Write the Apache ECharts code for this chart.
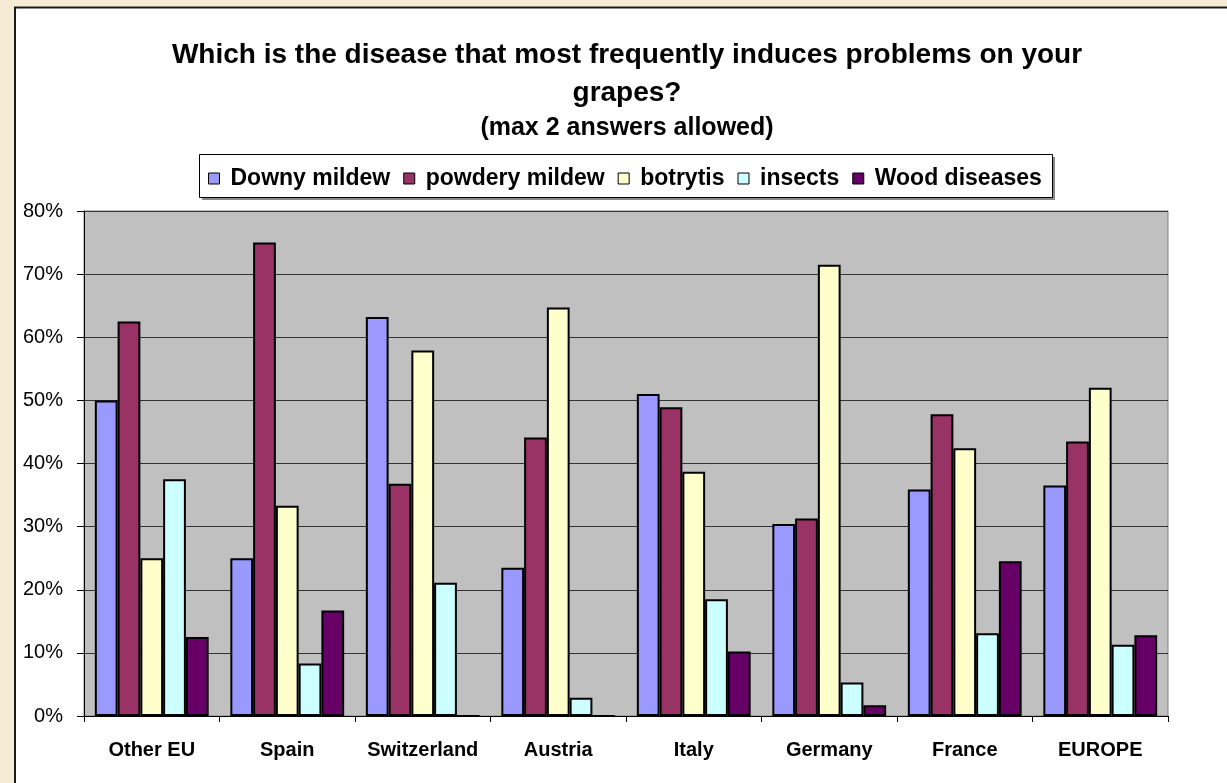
<!DOCTYPE html>
<html>
<head>
<meta charset="utf-8">
<script src="https://cdn.jsdelivr.net/npm/echarts@6/dist/echarts.min.js"></script>
<style>
html,body{margin:0;padding:0;background:#F6EBD5;}
#c{width:1227px;height:783px;}
</style>
</head>
<body>
<div id="c"></div>
<script>
var categories = ['Other EU', 'Spain', 'Switzerland', 'Austria', 'Italy', 'Germany', 'France', 'EUROPE'];
var seriesNames = ['Downy mildew', 'powdery mildew', 'botrytis', 'insects', 'Wood diseases'];
var downyMildew   = [50.0, 25.0, 63.2, 23.5, 51.0, 30.4, 35.9, 36.5];
var powderyMildew = [62.5, 75.0, 36.8, 44.1, 48.9, 31.3, 47.8, 43.5];
var botrytis      = [25.0, 33.3, 57.9, 64.7, 38.7, 71.5, 42.4, 52.0];
var insects       = [37.5, 8.3, 21.1, 2.9, 18.5, 5.3, 13.1, 11.3];
var woodDiseases  = [12.5, 16.7, 0, 0, 10.2, 1.7, 24.5, 12.8];
var yTicks = [0, 10, 20, 30, 40, 50, 60, 70, 80];

var colors = ['#9999FF', '#993366', '#FFFFCC', '#CCFFFF', '#660066'];
var values = [downyMildew, powderyMildew, botrytis, insects, woodDiseases];

var chart = echarts.init(document.getElementById('c'));
var series = seriesNames.map(function (n, i) {
  return {
    name: n,
    type: 'bar',
    data: values[i],
    barGap: '0%',
    barCategoryGap: '16%',
    itemStyle: { color: colors[i], borderColor: '#000', borderWidth: 2 }
  };
});

chart.setOption({
  animation: false,
  backgroundColor: 'transparent',
  graphic: [{
    type: 'rect', z: -10, silent: true,
    shape: { x: 15, y: 7.5, width: 1240, height: 800 },
    style: { fill: '#FFFFFF', stroke: '#1a1a1a', lineWidth: 2 }
  }, {
    type: 'rect', z: -6, silent: true,
    shape: { x: 202, y: 157, width: 853, height: 43 },
    style: { fill: '#888888' }
  }, {
    type: 'rect', z: -5, silent: true,
    shape: { x: 199.5, y: 154.5, width: 853, height: 43 },
    style: { fill: '#FFFFFF', stroke: '#000', lineWidth: 1 }
  }],
  title: [{
    text: 'Which is the disease that most frequently induces problems on your\ngrapes?',
    left: 622, top: 31, textAlign: 'center',
    textStyle: { fontFamily: 'Liberation Sans, Arial', fontWeight: 'bold', fontSize: 28, lineHeight: 38, color: '#000' }
  }, {
    text: '(max 2 answers allowed)',
    left: 622, top: 111, textAlign: 'center',
    textStyle: { fontFamily: 'Liberation Sans, Arial', fontWeight: 'bold', fontSize: 25, color: '#000' }
  }],
  legend: {
    data: seriesNames,
    left: 208, top: 167, padding: 0,
    itemWidth: 11, itemHeight: 11, itemGap: 13,
    icon: 'rect',
    itemStyle: { borderColor: '#000', borderWidth: 1 },
    textStyle: { fontFamily: 'Liberation Sans, Arial', fontWeight: 'bold', fontSize: 23, color: '#000', padding: [0, 0, 0, 6] }
  },
  grid: {
    left: 84, right: 59, top: 211, bottom: 67,
    show: true, backgroundColor: '#C0C0C0', borderColor: '#808080', borderWidth: 1
  },
  xAxis: {
    type: 'category',
    data: categories,
    axisLine: { lineStyle: { color: '#000', width: 1 } },
    axisTick: { show: true, alignWithLabel: false, length: 6, lineStyle: { color: '#000' } },
    axisLabel: { interval: 0, margin: 24, fontFamily: 'Liberation Sans, Arial', fontWeight: 'bold', fontSize: 20, color: '#000' }
  },
  yAxis: {
    type: 'value',
    min: yTicks[0], max: yTicks[yTicks.length - 1], interval: 10,
    axisLine: { show: true, lineStyle: { color: '#000', width: 1 } },
    axisTick: { show: true, length: 7, lineStyle: { color: '#000' } },
    axisLabel: { formatter: '{value}%', margin: 21, fontFamily: 'Liberation Sans, Arial', fontSize: 20, color: '#000' },
    splitLine: { lineStyle: { color: '#333', width: 1 } }
  },
  series: series
});
</script>
</body>
</html>
